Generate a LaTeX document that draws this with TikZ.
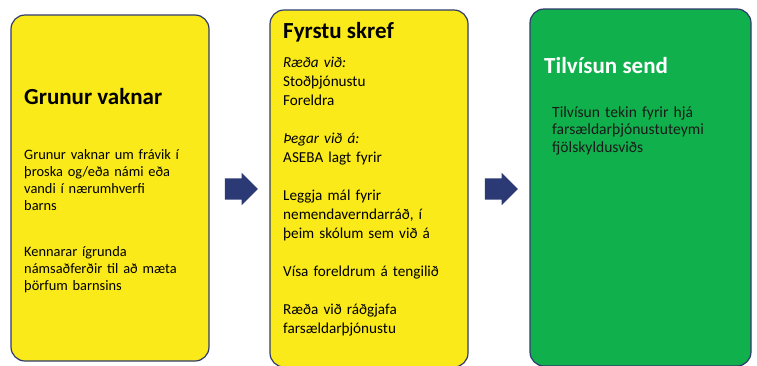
\documentclass[tikz,border=0pt]{standalone}
\usepackage{fontspec}
\setmainfont{Carlito}
\usetikzlibrary{positioning, shapes.arrows, calc}

\definecolor{boxyellow}{HTML}{FBEA1A}
\definecolor{boxgreen}{HTML}{10B04C}
\definecolor{boxline}{HTML}{2F3B6E}
\definecolor{arrowblue}{HTML}{2B3A75}
\definecolor{greentext}{HTML}{1A1A1A}

\begin{document}
\begin{tikzpicture}[x=1pt, y=-1pt]
\tikzset{
    stepbox/.style={draw=boxline, line width=1.2pt, rounded corners=14pt, inner sep=0pt},
    title/.style={anchor=west, inner sep=0pt, font=\bfseries\fontsize{23}{26}\selectfont},
    body/.style={anchor=north west, inner sep=0pt, align=left, text width=190pt,
        font=\fontsize{14.4}{17}\selectfont},
    blockarrow/.style={single arrow, fill=arrowblue, inner sep=0pt, anchor=tail,
        text height=10.5pt, text depth=10.5pt,
        minimum height=33pt, minimum width=32pt, single arrow head extend=5.5pt}
}
\useasboundingbox (0,0) rectangle (757,365);

% the three steps
\node[stepbox, fill=boxyellow, minimum width=198pt, minimum height=346pt] (grunur) at (110,188) {};
\node[stepbox, fill=boxyellow, minimum width=198pt, minimum height=357pt] (skref) at (369,188.5) {};
\node[stepbox, fill=boxgreen, minimum width=221pt, minimum height=357pt] (tilvisun) at (640.5,187.5) {};

% arrows between the steps
\node[blockarrow] (arrow1) at ($(grunur.east)+(15,1)$) {};
\node[blockarrow] (arrow2) at ($(skref.east)+(16,0.5)$) {};

% Grunur vaknar
\node[title] (grunurtitle) at (24,97) {Grunur vaknar};
\node[body] (grunurtext) at (24,149) {Grunur vaknar um frávik í\\
    þroska og/eða námi eða\\
    vandi í nærumhverfi\\
    barns\\[29pt]
    Kennarar ígrunda\\
    námsaðferðir til að mæta\\
    þörfum barnsins};

% Fyrstu skref
\node[title] (skreftitle) at (283,32) {Fyrstu skref};
\node[body, font=\fontsize{15.2}{19}\selectfont] (skreftext) at (283,57) {\textit{Ræða við:}\\
    Stoðþjónustu\\
    Foreldra\\[19pt]
    \textit{Þegar við á:}\\
    ASEBA lagt fyrir\\[19pt]
    Leggja mál fyrir\\
    nemendaverndarráð, í\\
    þeim skólum sem við á\\[19pt]
    Vísa foreldrum á tengilið\\[19pt]
    Ræða við ráðgjafa\\
    farsældarþjónustu};

% Tilvísun send
\node[title, text=white] (tilvisuntitle) at (544,66) {Tilvísun send};
\node[body, font=\fontsize{15.6}{17.5}\selectfont, text=greentext] (tilvisuntext) at (552,106) {Tilvísun tekin fyrir hjá\\
    farsældarþjónustuteymi\\
    fjölskyldusviðs};
\end{tikzpicture}
\end{document}
